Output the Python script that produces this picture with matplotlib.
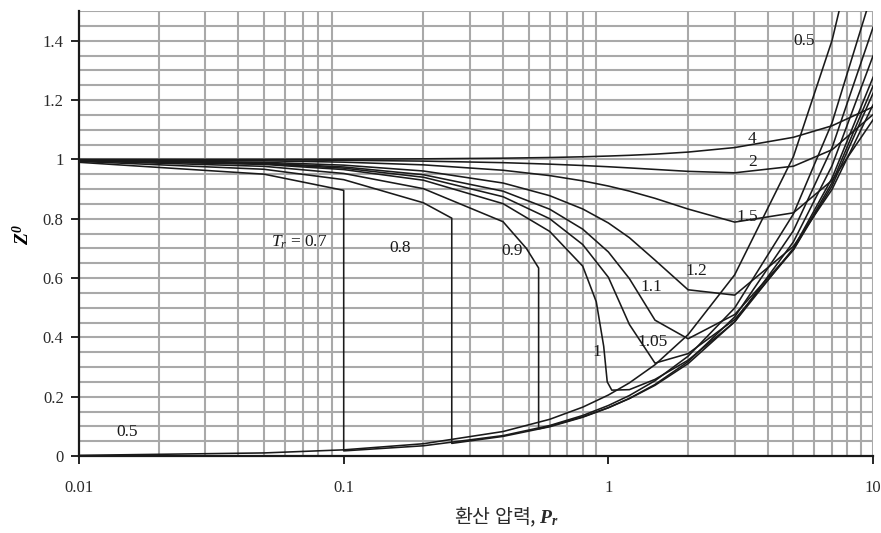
import matplotlib
matplotlib.use("Agg")
import matplotlib.pyplot as plt
from matplotlib.ticker import FixedLocator, NullFormatter

plt.rcParams["font.family"] = ["Liberation Serif", "DejaVu Serif"]
plt.rcParams["mathtext.fontset"] = "custom"
plt.rcParams["mathtext.rm"] = "Liberation Serif"
plt.rcParams["mathtext.it"] = "Liberation Serif:italic"
plt.rcParams["mathtext.bf"] = "Liberation Serif:bold:italic"

# reduced pressure grid shared by the single-phase isotherms
PR = [0.01, 0.05, 0.1, 0.2, 0.4, 0.6, 0.8, 1.0, 1.2, 1.5, 2.0, 3.0, 5.0, 7.0, 10.0]

Z_050 = [0.0021, 0.0103, 0.0207, 0.0413, 0.0825, 0.1236, 0.1647, 0.2056,
         0.2465, 0.3077, 0.4092, 0.6110, 1.0094, 1.4017, 1.9801]
Z_105 = [0.9971, 0.9855, 0.9707, 0.9401, 0.8743, 0.8002, 0.7130, 0.6026,
         0.4437, 0.3131, 0.3452, 0.4604, 0.6956, 0.9222, 1.2481]
Z_110 = [0.9975, 0.9874, 0.9747, 0.9485, 0.8930, 0.8323, 0.7649, 0.6880,
         0.5984, 0.4580, 0.3953, 0.4770, 0.6950, 0.9110, 1.2232]
Z_120 = [0.9981, 0.9904, 0.9808, 0.9611, 0.9205, 0.8779, 0.8330, 0.7858,
         0.7363, 0.6605, 0.5605, 0.5425, 0.7069, 0.8990, 1.1844]
Z_150 = [0.9991, 0.9954, 0.9909, 0.9818, 0.9636, 0.9456, 0.9278, 0.9103,
         0.8933, 0.8689, 0.8328, 0.7887, 0.8200, 0.9297, 1.1339]
Z_200 = [0.9997, 0.9986, 0.9972, 0.9944, 0.9892, 0.9842, 0.9796, 0.9754,
         0.9715, 0.9664, 0.9599, 0.9550, 0.9772, 1.0328, 1.1516]
Z_400 = [1.0001, 1.0005, 1.0010, 1.0021, 1.0043, 1.0066, 1.0090, 1.0115,
         1.0140, 1.0179, 1.0249, 1.0401, 1.0747, 1.1136, 1.1773]

# two-phase isotherms: the saturation pressure appears twice (vapour, liquid)
PR_070 = [0.01, 0.05, 0.1, 0.1, 0.2, 0.4, 0.6, 0.8, 1.0, 1.2, 1.5, 2.0, 3.0, 5.0, 7.0, 10.0]
Z_070 = [0.9904, 0.9504, 0.8958, 0.0172, 0.0344, 0.0687, 0.1027, 0.1366,
         0.1703, 0.2038, 0.2538, 0.3364, 0.4991, 0.8161, 1.1241, 1.5729]
PR_080 = [0.01, 0.05, 0.1, 0.2, 0.256, 0.256, 0.4, 0.6, 0.8, 1.0, 1.2, 1.5, 2.0, 3.0, 5.0, 7.0, 10.0]
Z_080 = [0.9935, 0.9669, 0.9319, 0.8539, 0.8020, 0.0425, 0.0661, 0.0985, 0.1307,
         0.1626, 0.1942, 0.2411, 0.3182, 0.4690, 0.7598, 1.0400, 1.4456]
PR_090 = [0.01, 0.05, 0.1, 0.2, 0.4, 0.49, 0.545, 0.545, 0.6, 0.8, 1.0, 1.2, 1.5, 2.0, 3.0, 5.0, 7.0, 10.0]
Z_090 = [0.9954, 0.9768, 0.9528, 0.9015, 0.7900, 0.7000, 0.6340, 0.0915, 0.1006, 0.1321,
         0.1630, 0.1935, 0.2383, 0.3114, 0.4527, 0.7220, 0.9793, 1.3496]
# critical isotherm, steep drop just below Pr = 1
PR_100 = [0.01, 0.05, 0.1, 0.2, 0.4, 0.6, 0.8, 0.9, 0.96, 0.99, 1.03, 1.2, 1.5, 2.0, 3.0, 5.0, 7.0, 10.0]
Z_100 = [0.9967, 0.9832, 0.9659, 0.9300, 0.8509, 0.7574, 0.6400, 0.5200, 0.3700, 0.2500,
         0.2220, 0.2237, 0.2583, 0.3229, 0.4522, 0.7004, 0.9372, 1.2772]

CURVES = [
    (PR, Z_050), (PR_070, Z_070), (PR_080, Z_080), (PR_090, Z_090),
    (PR_100, Z_100), (PR, Z_105), (PR, Z_110), (PR, Z_120),
    (PR, Z_150), (PR, Z_200), (PR, Z_400),
]

# isotherm labels: text, reduced pressure, Z
LABELS = [
    ("$T_r$ = 0.7", 0.068, 0.72), ("0.8", 0.163, 0.70), ("0.9", 0.434, 0.69),
    ("1", 0.905, 0.35), ("1.05", 1.47, 0.385), ("1.1", 1.45, 0.57),
    ("1.2", 2.15, 0.625), ("1.5", 3.35, 0.805), ("2", 3.5, 0.99),
    ("4", 3.5, 1.07), ("0.5", 5.5, 1.40), ("0.5", 0.0152, 0.081),
]

fig = plt.figure(figsize=(8.81, 5.33), dpi=100)
ax = fig.add_axes([0.0897, 0.1445, 0.9013, 0.8345])

for pr, z in CURVES:
    ax.plot(pr, z, color="#1a1a1a", lw=1.15, zorder=3)

for text, x, y in LABELS:
    ax.text(x, y, text, fontsize=12.5, ha="center", va="center", color="#1a1a1a", zorder=4)

ax.set_xscale("log")
ax.set_xlim(0.01, 10)
ax.set_ylim(0, 1.5)

ax.xaxis.set_major_locator(FixedLocator([0.01, 0.1, 1, 10]))
ax.xaxis.set_major_formatter(plt.FixedFormatter(["0.01", "0.1", "1", "10"]))
minor_x = [m * 10.0 ** e for e in (-2, -1, 0) for m in range(2, 10)]
ax.xaxis.set_minor_locator(FixedLocator(minor_x))
ax.xaxis.set_minor_formatter(NullFormatter())
ax.yaxis.set_major_locator(FixedLocator([0, 0.2, 0.4, 0.6, 0.8, 1.0, 1.2, 1.4]))
ax.yaxis.set_major_formatter(plt.FixedFormatter(["0", "0.2", "0.4", "0.6", "0.8", "1", "1.2", "1.4"]))

grid_kw = dict(color="#a9a9a9", lw=1.5, zorder=1)
for xv in minor_x:
    ax.axvline(xv, **grid_kw)
for i in range(1, 31):
    ax.axhline(i * 0.05, **grid_kw)
ax.axvline(10, **grid_kw)

ax.tick_params(axis="x", which="major", direction="out", length=6, width=1.2,
               pad=11, labelsize=12, labelcolor="#2a2a2a")
ax.tick_params(axis="x", which="minor", length=0)
ax.tick_params(axis="y", direction="out", length=6, width=1.2, pad=5,
               labelsize=12, labelcolor="#2a2a2a")

for side in ("top", "right"):
    ax.spines[side].set_visible(False)
for side in ("left", "bottom"):
    ax.spines[side].set_linewidth(1.6)
    ax.spines[side].set_color("#1a1a1a")
    ax.spines[side].set_zorder(5)

fig.text(0.025, 0.56, r"$\mathbf{Z}^{\mathbf{0}}$", rotation=90, fontsize=14,
         ha="center", va="center")
fig.text(0.575, 0.03, r"환산 압력, $\mathbf{P}_\mathbf{r}$", fontsize=14,
         ha="center", va="center", family=["Noto Sans CJK KR", "DejaVu Sans"],
         color="#2a2a2a")

fig.savefig("out.png", dpi=100)
